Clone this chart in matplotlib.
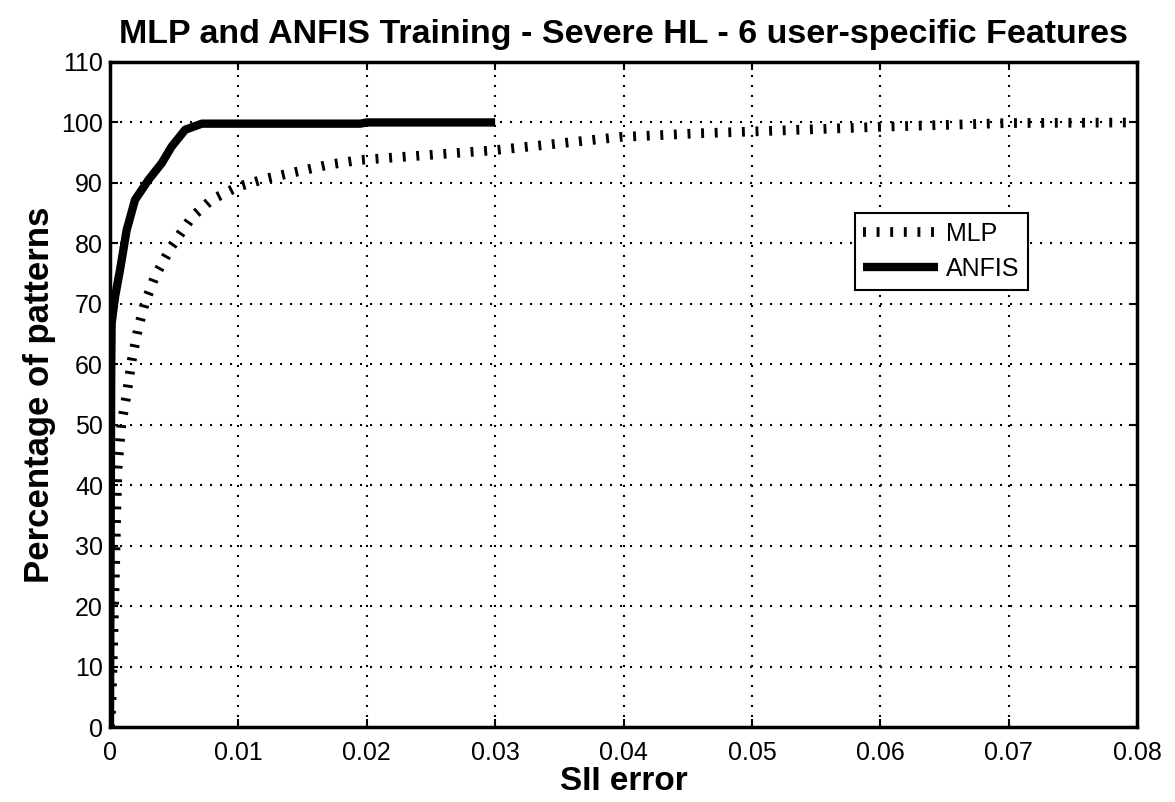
import matplotlib
matplotlib.use("Agg")
import matplotlib.pyplot as plt

plt.rcParams["font.family"] = ["Liberation Sans", "DejaVu Sans"]

# cumulative share of training patterns below a given SII error
mlp_err = [0, 0.0001, 0.0002, 0.0003, 0.0004, 0.0005, 0.0006, 0.0009, 0.0013,
           0.0017, 0.0022, 0.0027, 0.0035, 0.0048, 0.0064, 0.0079, 0.01,
           0.0123, 0.017, 0.0195, 0.0299, 0.0398, 0.0458, 0.05, 0.0602,
           0.07, 0.08]
mlp_pct = [0, 3, 10, 18, 26.5, 36.4, 43, 50.3, 55, 60.7, 66, 70, 74.5, 79.5,
           84.4, 87.2, 89.4, 90.8, 93, 93.8, 95.4, 97.6, 98.2, 98.5, 99.3,
           99.9, 100]

anfis_err = [0, 0.00005, 0.0001, 0.00013, 0.0004, 0.00078, 0.0013, 0.00195,
             0.003, 0.00404, 0.0048, 0.00586, 0.00716, 0.0195, 0.02, 0.03]
anfis_pct = [0, 30, 60, 66.8, 71.2, 75.6, 82.2, 87.2, 90.5, 93.3, 96, 98.8,
             99.8, 99.8, 100, 100]

xticks = [0, 0.01, 0.02, 0.03, 0.04, 0.05, 0.06, 0.07, 0.08]
xticklabels = ["0", "0.01", "0.02", "0.03", "0.04", "0.05", "0.06", "0.07", "0.08"]
yticks = list(range(0, 111, 10))

fig = plt.figure(figsize=(11.75, 8.02), dpi=100)
fig.set_facecolor("white")
ax = fig.add_axes([0.0936, 0.0935, 0.8741, 0.8292])

# thick short dashes give the tick-like MLP trace
ax.plot(mlp_err, mlp_pct, color="black", lw=7, linestyle=(0, (0.3, 1.1)),
        dash_capstyle="butt", label="MLP")
ax.plot(anfis_err, anfis_pct, color="black", lw=6, solid_capstyle="butt",
        label="ANFIS")

ax.set_xlim(0, 0.08)
ax.set_ylim(0, 110)
ax.set_xticks(xticks)
ax.set_xticklabels(xticklabels)
ax.set_yticks(yticks)

ax.grid(True, color="black", linestyle=(0, (1, 3.8)), lw=1.5)
ax.tick_params(direction="in", length=6, width=1.5, top=True, right=True,
               labelsize=18)
ax.tick_params(axis="x", pad=10)
ax.tick_params(axis="y", pad=5)
for s in ax.spines.values():
    s.set_linewidth(2.5)

ax.set_title("MLP and ANFIS Training - Severe HL - 6 user-specific Features",
             fontsize=24.5, fontweight="bold", pad=14)
ax.set_xlabel("SII error", fontsize=24, fontweight="bold", labelpad=1)
ax.set_ylabel("Percentage of patterns", fontsize=25, fontweight="bold",
              labelpad=4)

leg = ax.legend(loc="upper left", bbox_to_anchor=(0.725, 0.773), fontsize=18,
                fancybox=False, framealpha=1, edgecolor="black",
                handlelength=3.0, borderpad=0.35, labelspacing=0.45,
                handletextpad=0.3, borderaxespad=0)
leg.get_frame().set_linewidth(1.5)

plt.savefig("out.png", dpi=100)
plt.close()
